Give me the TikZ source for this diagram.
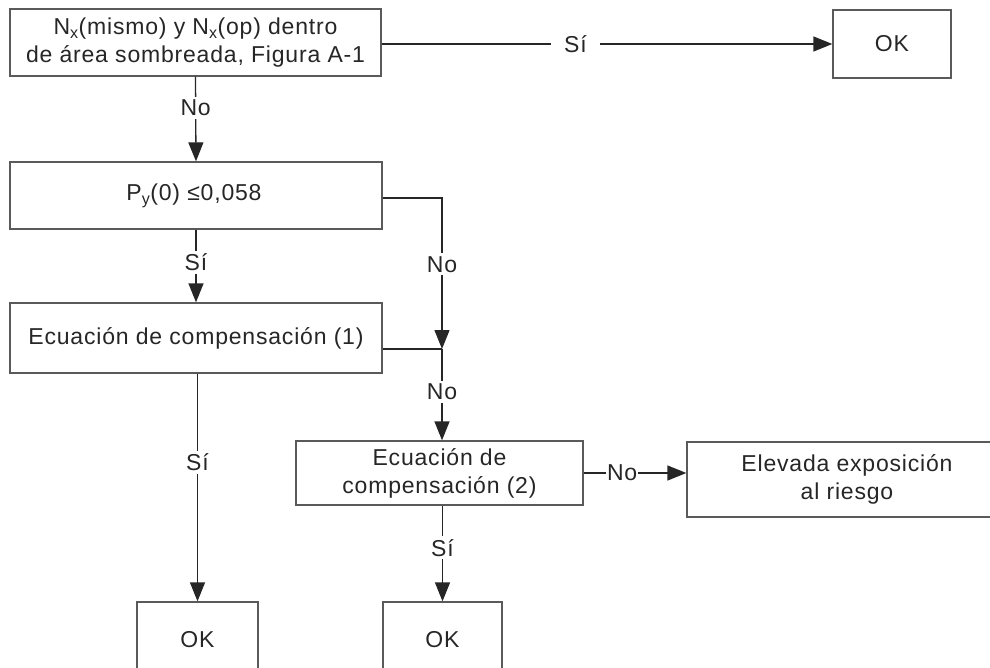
\documentclass[tikz,border=0pt]{standalone}
\usepackage{fontspec}
\setmainfont{Liberation Sans}[LetterSpace=3.5]
\usetikzlibrary{arrows.meta}
\definecolor{boxcol}{HTML}{5A5A5A}
\definecolor{linecol}{HTML}{262626}
\definecolor{txtcol}{HTML}{262626}

\begin{document}
\begin{tikzpicture}[x=1pt,y=-1pt,
  font=\fontsize{23}{28}\selectfont, text=txtcol,
  box/.style={draw=boxcol, line width=1.3pt, align=center, inner sep=0pt},
  conn/.style={draw=linecol, line width=1.3pt},
  arr/.style={conn, -{Triangle[length=19pt,width=15pt]}},
  lab/.style={fill=white, inner sep=3pt, text=txtcol}]

\path[use as bounding box, clip] (0,0) rectangle (990,668);

% decision and process boxes
\node[box, minimum width=371pt, minimum height=67pt] (b1) at (195.5,42.5)
  {N\textsubscript{x}(mismo) y N\textsubscript{x}(op) dentro\\de área sombreada, Figura A-1};
\node[box, minimum width=118pt, minimum height=68pt] (ok1) at (892,44) {OK};
\node[box, minimum width=372pt, minimum height=67pt] (b2) at (196,195.5)
  {\hspace*{-4pt}P\textsubscript{y}(0) ≤0,058};
\node[box, minimum width=372pt, minimum height=70pt] (b3) at (196,338)
  {Ecuación de compensación (1)};
\node[box, minimum width=287pt, minimum height=64pt] (b4) at (439.5,473)
  {Ecuación de\\compensación (2)};
\node[box, minimum width=320pt, minimum height=75pt] (b5) at (847,479.5)
  {Elevada exposición\\al riesgo};
\node[box, minimum width=121pt, minimum height=76pt] (ok2) at (197.5,640) {OK};
\node[box, minimum width=119pt, minimum height=76pt] (ok3) at (442.5,640) {OK};

% merge point of the two "No" branches
\coordinate (j) at (442,349);

% connectors
\draw[arr] ([yshift=-1.5pt]b1.east) -- node[lab, pos=0.43, inner xsep=13pt] {Sí} ([yshift=-1.5pt]b1.east -| ok1.west);
\draw[arr] (b1.south) -- node[lab, pos=0.37] {No} (b2.north);
\draw[arr] (b2.south) -- node[lab, pos=0.45] {Sí} (b3.north);
\draw[arr] ([yshift=-2.5pt]b2.east) -| node[lab, pos=0.72] {No} (j);
\draw[conn] (b3.east |- j) -- (j);
\draw[arr] (j) -- node[lab, pos=0.47] {No} (j |- b4.north);
\draw[arr] (b4.east) -- node[lab, pos=0.375, inner sep=1pt] {No} (b4.east -| b5.west);
\draw[arr] (b3.south -| ok2.north) -- node[lab, pos=0.39] {Sí} (ok2.north);
\draw[arr] (ok3.north |- b4.south) -- node[lab, pos=0.44] {Sí} (ok3.north);
\end{tikzpicture}
\end{document}
